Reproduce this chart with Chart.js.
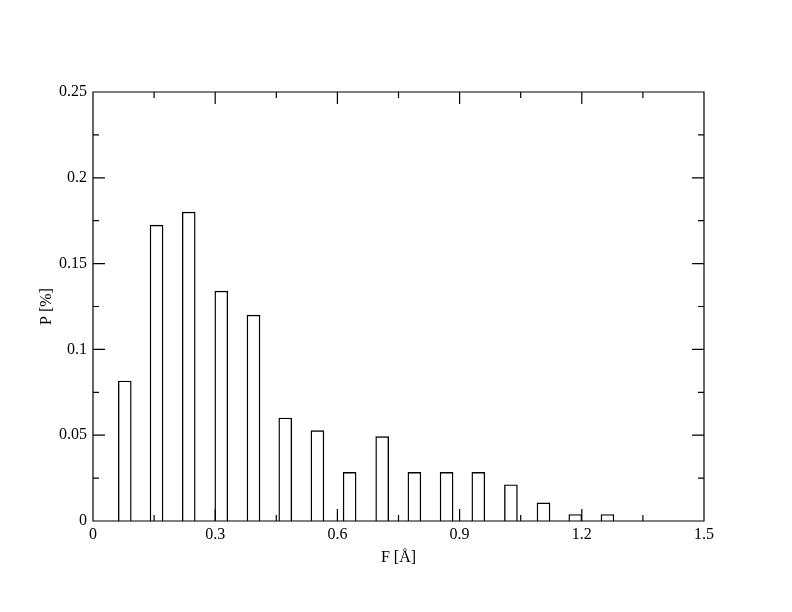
<!DOCTYPE html>
<html>
<head>
<meta charset="utf-8">
<script src="https://cdn.jsdelivr.net/npm/chart.js@4/dist/chart.umd.min.js"></script>
<style>
  html, body { margin: 0; padding: 0; background: #fff; }
  canvas { display: block; }
</style>
</head>
<body>
<canvas id="histChart" width="792" height="612"></canvas>
<script>
// bin centres (F in Å) and probabilities
const binCenters = [0.078, 0.156, 0.235, 0.315, 0.394, 0.472, 0.551, 0.630,
                    0.710, 0.789, 0.868, 0.946, 1.026, 1.106, 1.184, 1.263];
const probValues = [0.0816, 0.1724, 0.180, 0.134, 0.120, 0.060, 0.0527, 0.0283,
                    0.0492, 0.0283, 0.0283, 0.0283, 0.0211, 0.0106, 0.0038, 0.0038];

// axis ticks
const xTickLabels = ['0', '0.3', '0.6', '0.9', '1.2', '1.5'];
const xMajorTicks = [0, 0.3, 0.6, 0.9, 1.2, 1.5];
const xMinorTicks = [0.15, 0.45, 0.75, 1.05, 1.35];
const yTickLabels = ['0', '0.05', '0.1', '0.15', '0.2', '0.25'];
const yMajorTicks = [0, 0.05, 0.1, 0.15, 0.2, 0.25];
const yMinorTicks = [0.025, 0.075, 0.125, 0.175, 0.225];

const serif = 'Liberation Serif, "Times New Roman", serif';

// frame box with inward ticks on all four sides (xmgrace style)
const frameTicks = {
    id: 'frameTicks',
    afterDatasetsDraw(chart) {
        const { ctx, chartArea: a, scales: { x, y } } = chart;
        ctx.save();
        ctx.strokeStyle = '#000';
        ctx.lineWidth = 1.2;
        ctx.beginPath();
        ctx.rect(a.left, a.top, a.right - a.left, a.bottom - a.top);

        const vTick = (v, len) => {
            const px = x.getPixelForValue(v);
            ctx.moveTo(px, a.bottom); ctx.lineTo(px, a.bottom - len);
            ctx.moveTo(px, a.top); ctx.lineTo(px, a.top + len);
        };
        const hTick = (v, len) => {
            const py = y.getPixelForValue(v);
            ctx.moveTo(a.left, py); ctx.lineTo(a.left + len, py);
            ctx.moveTo(a.right, py); ctx.lineTo(a.right - len, py);
        };
        xMajorTicks.forEach(v => vTick(v, 12));
        xMinorTicks.forEach(v => vTick(v, 6));
        yMajorTicks.forEach(v => hTick(v, 12));
        yMinorTicks.forEach(v => hTick(v, 6));
        ctx.stroke();
        ctx.restore();
    }
};

const points = binCenters.map((c, i) => ({ x: c, y: probValues[i] }));

new Chart(document.getElementById('histChart'), {
    type: 'bar',
    data: {
        datasets: [{
            data: points,
            backgroundColor: '#fff',
            borderColor: '#000',
            borderWidth: 1.4,
            barThickness: 13
        }]
    },
    options: {
        responsive: false,
        animation: false,
        devicePixelRatio: 1,
        layout: { padding: { top: 92, right: 88, left: 0, bottom: 0 } },
        plugins: {
            legend: { display: false },
            tooltip: { enabled: false }
        },
        scales: {
            x: {
                type: 'linear',
                offset: false,
                min: 0,
                max: 1.5,
                afterFit(s) { s.height = 91; },
                afterBuildTicks(s) { s.ticks = xMajorTicks.map(v => ({ value: v })); },
                grid: { display: false, drawTicks: false, offset: false },
                border: { display: false },
                ticks: {
                    padding: 4,
                    color: '#000',
                    font: { family: serif, size: 16 },
                    callback: (v, i) => xTickLabels[i]
                },
                title: {
                    display: true,
                    text: 'F [Å]',
                    color: '#000',
                    font: { family: serif, size: 16 },
                    padding: { top: 0, bottom: 45 }
                }
            },
            y: {
                min: 0,
                max: 0.25,
                afterFit(s) { s.width = 93; },
                afterBuildTicks(s) { s.ticks = yMajorTicks.map(v => ({ value: v })); },
                grid: { display: false, drawTicks: false },
                border: { display: false },
                ticks: {
                    padding: 6,
                    color: '#000',
                    font: { family: serif, size: 16 },
                    callback: (v, i) => yTickLabels[i]
                },
                title: {
                    display: true,
                    text: 'P [%]',
                    color: '#000',
                    font: { family: serif, size: 16 },
                    padding: { top: 37, bottom: 0 }
                }
            }
        }
    },
    plugins: [frameTicks]
});
</script>
</body>
</html>
